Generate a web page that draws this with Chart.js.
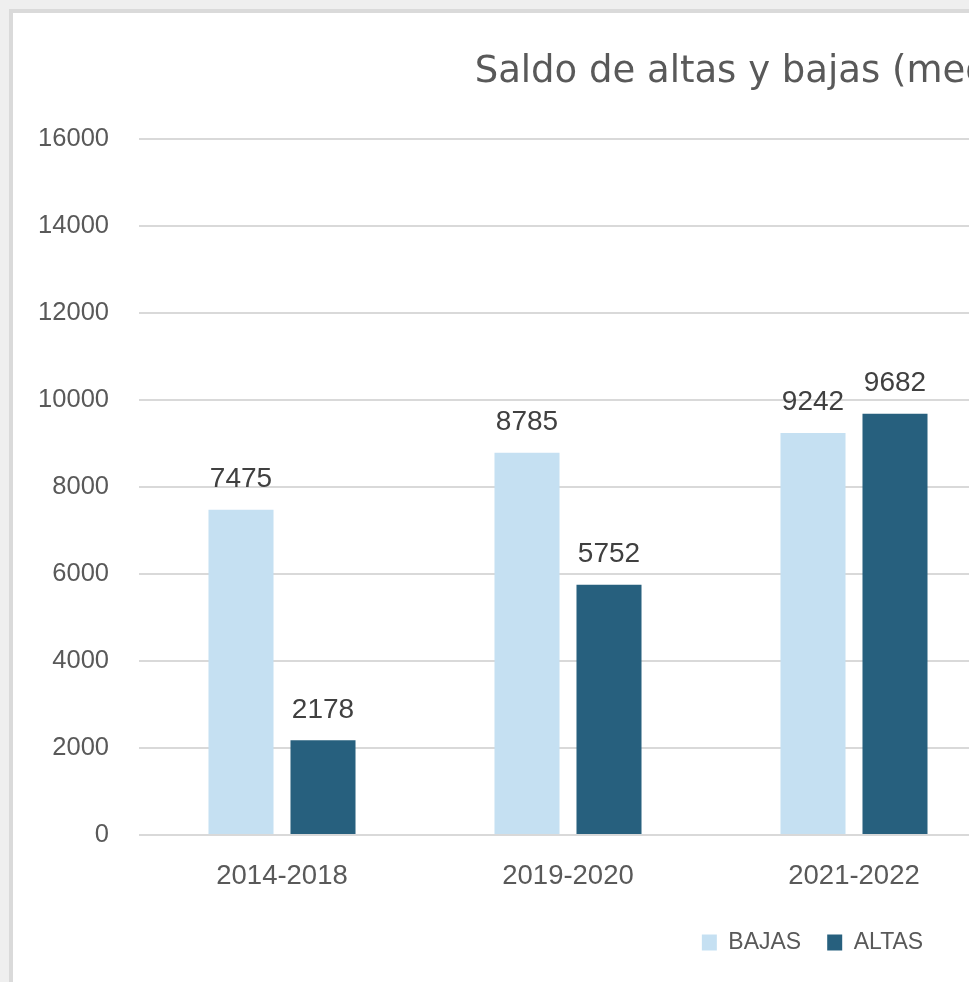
<!DOCTYPE html>
<html>
<head>
<meta charset="utf-8">
<script src="https://cdn.jsdelivr.net/npm/chart.js@4/dist/chart.umd.min.js"></script>
<style>
  html, body { margin: 0; padding: 0; overflow: hidden; background: #efefef; width: 969px; height: 982px; }
  #panel { position: absolute; left: 9px; top: 9px; border: 4px solid #dadada; background: #ffffff; width: 1640px; height: 1000px; }
  #panel canvas { position: absolute; left: 0; top: 0; }
</style>
</head>
<body>
<div id="panel"><canvas id="chart" width="1599" height="969"></canvas></div>
<script>
// ---- data ----
const categories = ['2014-2018', '2019-2020', '2021-2022'];
// the original chart continues to the right; these slots are cropped off in the screenshot
const croppedCategories = ['', ''];
const bajas = [7475, 8785, 9242];
const altas = [2178, 5752, 9682];
const seriesNames = ['BAJAS', 'ALTAS'];
const yTicks = [0, 2000, 4000, 6000, 8000, 10000, 12000, 14000, 16000];
const titleText = 'Saldo de altas y bajas (media anual)';

const padNulls = arr => arr.concat(croppedCategories.map(() => null));

const valueLabels = {
  id: 'valueLabels',
  afterDatasetsDraw(chart) {
    const ctx = chart.ctx;
    ctx.save();
    ctx.font = '28px "Liberation Sans", Arial, sans-serif';
    ctx.fillStyle = '#404040';
    ctx.textAlign = 'center';
    ctx.textBaseline = 'alphabetic';
    chart.data.datasets.forEach((ds, i) => {
      chart.getDatasetMeta(i).data.forEach((bar, j) => {
        const v = ds.data[j];
        if (v === null || v === undefined) return;
        ctx.fillText(String(v), bar.x, bar.y - 22.5);
      });
    });
    ctx.restore();
  }
};

new Chart(document.getElementById('chart'), {
  type: 'bar',
  data: {
    labels: categories.concat(croppedCategories),
    datasets: [
      { label: seriesNames[0], data: padNulls(bajas), backgroundColor: '#C5E0F2', borderWidth: 0,
        categoryPercentage: 0.5734, barPercentage: 0.793 },
      { label: seriesNames[1], data: padNulls(altas), backgroundColor: '#27607E', borderWidth: 0,
        categoryPercentage: 0.5734, barPercentage: 0.793 }
    ]
  },
  options: {
    responsive: false,
    animation: false,
    devicePixelRatio: 1,
    layout: { padding: { left: 0, right: 0, top: 0, bottom: 18 } },
    plugins: {
      title: {
        display: true,
        text: titleText,
        color: '#595959',
        font: { family: '"DejaVu Sans", sans-serif', size: 37, weight: 'normal', lineHeight: 1.2 },
        padding: { top: 37, bottom: 44.6 }
      },
      legend: {
        position: 'bottom',
        labels: {
          color: '#595959',
          font: { family: '"Liberation Sans", Arial, sans-serif', size: 23 },
          boxWidth: 15,
          boxHeight: 16,
          padding: 26
        }
      },
      tooltip: { enabled: false }
    },
    scales: {
      x: {
        grid: { display: false, drawTicks: false },
        border: { display: false },
        ticks: {
          color: '#595959',
          font: { family: '"Liberation Sans", Arial, sans-serif', size: 27.5 },
          padding: 25,
          maxRotation: 0,
          autoSkip: false
        },
        afterFit(scale) { scale.height = 70; }
      },
      y: {
        min: 0,
        max: 16000,
        grid: { color: '#d9d9d9', lineWidth: 2, drawTicks: false },
        border: { display: false },
        afterBuildTicks(scale) { scale.ticks = yTicks.map(v => ({ value: v })); },
        ticks: {
          color: '#595959',
          font: { family: '"Liberation Sans", Arial, sans-serif', size: 25.5 },
          padding: 30,
          callback: v => String(v)
        },
        afterFit(scale) { scale.width = 126; }
      },
      // empty right margin of the original chart (outside the screenshot)
      yRight: {
        position: 'right',
        display: true,
        grid: { display: false, drawTicks: false },
        border: { display: false },
        ticks: { display: false },
        afterFit(scale) { scale.width = 43; }
      }
    }
  },
  plugins: [valueLabels]
});
</script>
</body>
</html>
